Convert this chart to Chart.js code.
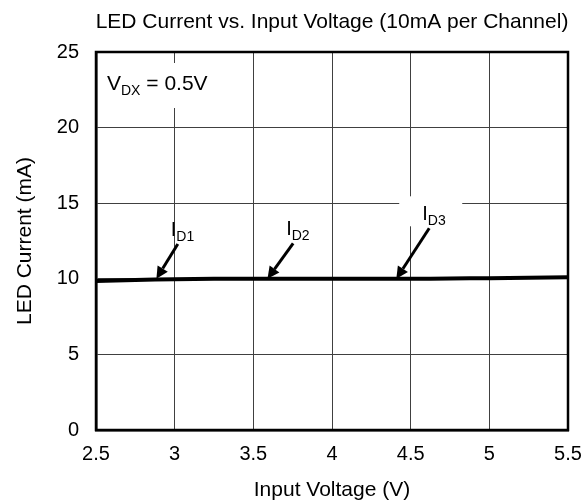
<!DOCTYPE html>
<html>
<head>
<meta charset="utf-8">
<script src="https://cdn.jsdelivr.net/npm/chart.js@4.4.0/dist/chart.umd.min.js"></script>
<style>
  html, body { margin: 0; padding: 0; background: #fff; }
  #wrap { width: 585px; height: 503px; }
</style>
</head>
<body>
<div id="wrap"><canvas id="ledChart" width="585" height="503"></canvas></div>
<script>
var voltage = [2.5, 2.75, 3, 3.25, 3.5, 3.75, 4, 4.25, 4.5, 4.75, 5, 5.25, 5.5];
var current = [9.85, 9.92, 9.97, 10.0, 10.0, 10.0, 10.0, 10.0, 10.0, 10.02, 10.04, 10.07, 10.1];

// callouts: subscript, arrow tail and arrow head in data units
var callouts = [
  { sub: 'D1', tail: [3.02, 12.3], head: [2.884, 10.0] },
  { sub: 'D2', tail: [3.753, 12.35], head: [3.59, 10.0] },
  { sub: 'D3', tail: [4.618, 13.34], head: [4.409, 10.0] }
];

var font = '"Liberation Sans", Arial, sans-serif';

function subText(ctx, x, y, main, sub, size, subSize, rest) {
  ctx.textBaseline = 'alphabetic';
  ctx.textAlign = 'left';
  ctx.font = size + 'px ' + font;
  ctx.fillText(main, x, y);
  var w = ctx.measureText(main).width;
  ctx.font = subSize + 'px ' + font;
  ctx.fillText(sub, x + w, y + 5);
  var w2 = ctx.measureText(sub).width;
  if (rest) {
    ctx.font = size + 'px ' + font;
    ctx.fillText(rest, x + w + w2, y);
  }
}

var extras = {
  id: 'extras',
  afterDraw: function(chart) {
    var ctx = chart.ctx, a = chart.chartArea;
    var sx = chart.scales.x, sy = chart.scales.y;
    ctx.save();
    ctx.fillStyle = '#000';

    // title, centred over the plot
    ctx.font = '21px ' + font;
    ctx.textAlign = 'center';
    ctx.textBaseline = 'alphabetic';
    ctx.fillText('LED Current vs. Input Voltage (10mA per Channel)', (a.left + a.right) / 2, 28);

    // frame
    ctx.lineWidth = 2.5;
    ctx.strokeStyle = '#000';
    ctx.strokeRect(a.left, a.top, a.right - a.left, a.bottom - a.top);

    // V_DX label on a white box
    ctx.fillStyle = '#fff';
    ctx.fillRect(a.left + 5, a.top + 11, 138, 45);
    ctx.fillStyle = '#000';
    subText(ctx, a.left + 11, a.top + 38, 'V', 'DX', 21, 14, ' = 0.5V');

    callouts.forEach(function(c) {
      var tx = sx.getPixelForValue(c.tail[0]), ty = sy.getPixelForValue(c.tail[1]);
      var hx = sx.getPixelForValue(c.head[0]), hy = sy.getPixelForValue(c.head[1]);
      if (c.sub === 'D3') {
        ctx.fillStyle = '#fff';
        ctx.fillRect(tx - 30, ty - 32, 63, 30);
        ctx.fillStyle = '#000';
      }
      subText(ctx, tx - 7, ty - 8, 'I', c.sub, 20, 14);
      // arrow
      var ang = Math.atan2(hy - ty, hx - tx);
      var len = 12;
      var bx = hx - len * Math.cos(ang), by = hy - len * Math.sin(ang);
      ctx.strokeStyle = '#000';
      ctx.lineWidth = 3;
      ctx.beginPath();
      ctx.moveTo(tx, ty);
      ctx.lineTo(bx, by);
      ctx.stroke();
      ctx.beginPath();
      ctx.moveTo(hx, hy);
      ctx.lineTo(bx + 6 * Math.sin(ang), by - 6 * Math.cos(ang));
      ctx.lineTo(bx - 6 * Math.sin(ang), by + 6 * Math.cos(ang));
      ctx.closePath();
      ctx.fill();
    });
    ctx.restore();
  }
};

var points = voltage.map(function(v, i) { return { x: v, y: current[i] }; });

new Chart(document.getElementById('ledChart').getContext('2d'), {
  type: 'line',
  data: {
    datasets: [{
      data: points,
      borderColor: '#000',
      borderWidth: 4,
      pointRadius: 0,
      tension: 0.3,
      fill: false
    }]
  },
  options: {
    responsive: false,
    animation: false,
    layout: { padding: { top: 52, right: 17, left: 0, bottom: 0 } },
    plugins: {
      legend: { display: false },
      tooltip: { enabled: false },
      title: { display: false }
    },
    scales: {
      x: {
        type: 'linear',
        min: 2.5,
        max: 5.5,
        ticks: {
          stepSize: 0.5,
          color: '#000',
          font: { family: font, size: 20 },
          padding: 12,
          maxRotation: 0,
          callback: function(v) { return String(v); }
        },
        grid: { color: '#404040', lineWidth: 1, drawTicks: false },
        border: { color: '#000', width: 2.5 },
        title: {
          display: true,
          text: 'Input Voltage (V)',
          color: '#000',
          font: { family: font, size: 21 },
          padding: { top: 0, bottom: 0 }
        },
        afterFit: function(s) {
          s.height = 73;
          s.paddingLeft = 0;
          s.paddingRight = 0;
        }
      },
      y: {
        min: 0,
        max: 25,
        ticks: {
          stepSize: 5,
          color: '#000',
          font: { family: font, size: 20 },
          padding: 17
        },
        grid: { color: '#404040', lineWidth: 1, drawTicks: false },
        border: { color: '#000', width: 2.5 },
        title: {
          display: true,
          text: 'LED Current (mA)',
          color: '#000',
          font: { family: font, size: 21 },
          padding: { top: 13, bottom: 0 }
        },
        afterFit: function(s) { s.width = 96; }
      }
    }
  },
  plugins: [extras]
});
</script>
</body>
</html>
